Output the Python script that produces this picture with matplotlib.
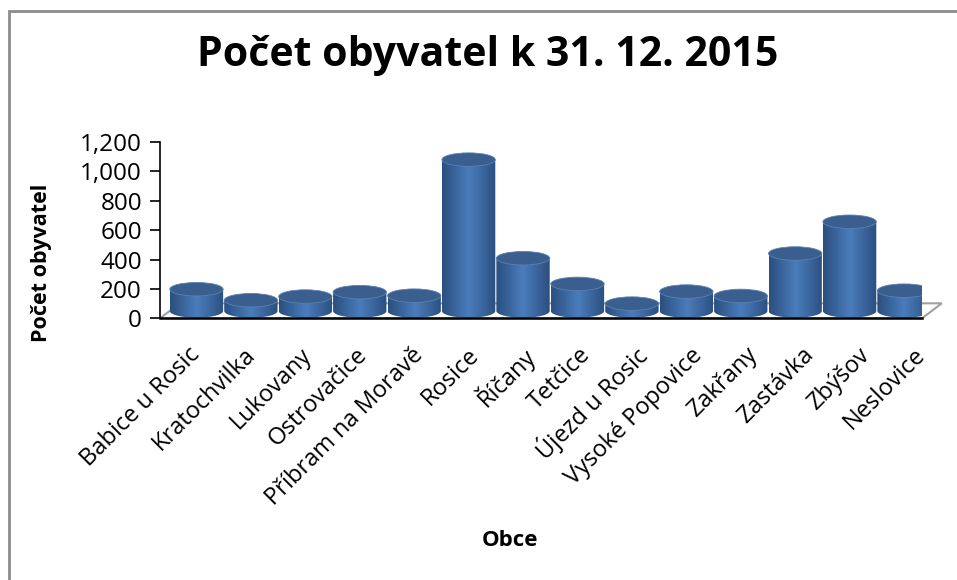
import numpy as np
import matplotlib.pyplot as plt
from matplotlib.colors import LinearSegmentedColormap
from matplotlib.patches import Ellipse, Rectangle, Polygon
from matplotlib.path import Path

# data
obce = ['Babice u Rosic', 'Kratochvilka', 'Lukovany', 'Ostrovačice',
        'Příbram na Moravě', 'Rosice', 'Říčany', 'Tetčice', 'Újezd u Rosic',
        'Vysoké Popovice', 'Zakřany', 'Zastávka', 'Zbýšov', 'Neslovice']
obyvatel = [148, 73, 98, 128, 104, 1030, 359, 184, 50, 132, 102, 391, 607, 138]
y_ticks = [0, 200, 400, 600, 800, 1000, 1200]

FONT = 'Open Sans'
W, H = 957, 580

# fake 3d look: cylinders sit in the middle of a shallow floor
DX = 0.17      # depth shift to the right (categories)
LIFT = 50      # depth shift upwards (value units)
HW = 0.49      # half width of a cylinder
EH = 92        # ellipse height in value units
LABEL_SPREAD = 1.025  # excel spreads the rotated labels a bit wider

side_cmap = LinearSegmentedColormap.from_list(
    'cyl', ['#2b4f7f', '#3a659c', '#4a7dbc', '#3b669e', '#2b4f7f'])

fig = plt.figure(figsize=(W / 100, H / 100), dpi=100)
ax = fig.add_axes([160 / W, 1 - 318.3 / H, (922 - 160) / W, (318.3 - 142) / H])

for i, v in enumerate(obyvatel):
    cx = i + DX
    top = LIFT + v
    # body + lower half ellipse as one outline
    t = np.linspace(np.pi, 2 * np.pi, 60)
    verts = [(cx - HW, top), (cx - HW, LIFT)]
    verts += list(zip(cx + HW * np.cos(t), LIFT + EH / 2 * np.sin(t)))
    verts += [(cx + HW, LIFT), (cx + HW, top), (cx - HW, top)]
    body = Path(verts)
    img = ax.imshow(np.linspace(0, 1, 256)[None, :], cmap=side_cmap, aspect='auto',
                    extent=(cx - HW, cx + HW, LIFT - EH / 2, top),
                    interpolation='bicubic', zorder=2)
    img.set_clip_path(body, transform=ax.transData)
    ax.add_patch(Ellipse((cx, top), 2 * HW, EH, facecolor='#3a5f8f',
                         edgecolor='#5a80b2', linewidth=0.6, zorder=3))

# floor outline
ax.add_patch(Polygon([(0, 0), (1, 0), (1.026, 0.085), (0.026, 0.085)],
                     closed=True, transform=ax.transAxes, fill=False,
                     edgecolor='#a0a0a0', linewidth=1.5, zorder=1, clip_on=False))

for s in ['top', 'right']:
    ax.spines[s].set_visible(False)
ax.spines['left'].set_color('black')
ax.spines['bottom'].set_color('black')
ax.spines['left'].set_linewidth(1.2)
ax.spines['bottom'].set_linewidth(1.8)
ax.spines['bottom'].set_zorder(4)

ax.set_yticks(y_ticks)
ax.set_yticklabels([f'{t:,}' for t in y_ticks], fontsize=17.5, family=FONT)
ax.tick_params(axis='y', length=7, width=1.2, pad=6)

ax.set_xticks([DX + i * LABEL_SPREAD for i in range(len(obce))])
ax.set_xticklabels(obce, rotation=45, ha='right', va='center',
                   rotation_mode='anchor', fontsize=17, family=FONT)
ax.tick_params(axis='x', length=0, pad=24)

# limits last, set_xticks would otherwise widen them
ax.set_xlim(-0.5, len(obce) - 0.5)
ax.set_ylim(0, 1200)

fig.text(488 / W, 1 - 55 / H, 'Počet obyvatel k 31. 12. 2015', ha='center',
         va='center', fontsize=29.5, fontweight='bold', family=FONT)
fig.text(42 / W, 1 - 263 / H, 'Počet obyvatel', ha='center', va='center',
         rotation=90, fontsize=15.5, fontweight='bold', family=FONT)
fig.text(510 / W, 1 - 541 / H, 'Obce', ha='center', va='center',
         fontsize=16, fontweight='bold', family=FONT)

# chart border (cut off at right and bottom in the reference)
fig.patches.append(Rectangle((9 / W, -0.05), 1.1, 1 - 11 / H + 0.05,
                             transform=fig.transFigure, fill=False,
                             edgecolor='#8c8c8c', linewidth=2))

fig.savefig('out.png', dpi=100)
